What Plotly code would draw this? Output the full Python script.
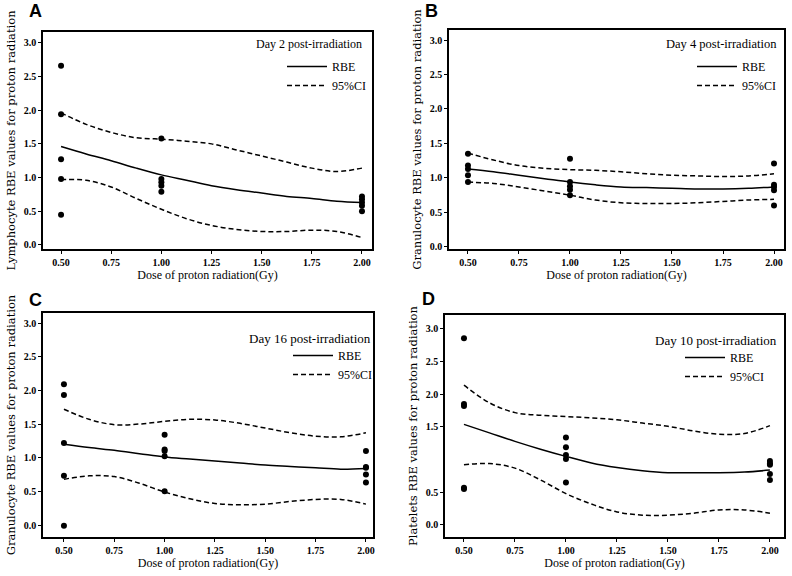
import plotly.graph_objs as go

W, H = 792, 576

# doses where the individual RBE values were measured
dose_obs = [0.5] * 5 + [1.0] * 5 + [2.0] * 5
# doses along the fitted curve
dose_fit = [0.5, 0.625, 0.75, 0.875, 1.0, 1.125, 1.25, 1.375, 1.5, 1.625, 1.75, 1.875, 2.0]

# A - lymphocytes, day 2
lym_obs = [2.66, 1.94, 1.27, 0.98, 0.45,
           1.58, 0.98, 0.93, 0.88, 0.79,
           0.72, 0.68, 0.63, 0.58, 0.50]
lym_rbe = [1.46, 1.35, 1.25, 1.14, 1.04, 0.96, 0.88, 0.82, 0.77, 0.72, 0.69, 0.65, 0.63]
lym_hi = [1.96, 1.79, 1.67, 1.59, 1.57, 1.54, 1.50, 1.41, 1.32, 1.23, 1.14, 1.09, 1.14]
lym_lo = [0.97, 0.96, 0.86, 0.69, 0.53, 0.39, 0.29, 0.23, 0.20, 0.20, 0.22, 0.20, 0.11]

# B - granulocytes, day 4
gr4_obs = [1.35, 1.18, 1.13, 1.04, 0.94,
           1.28, 0.94, 0.88, 0.83, 0.75,
           1.21, 0.90, 0.87, 0.82, 0.60]
gr4_rbe = [1.13, 1.09, 1.04, 0.99, 0.94, 0.90, 0.87, 0.86, 0.85, 0.84, 0.84, 0.85, 0.87]
gr4_hi = [1.36, 1.26, 1.18, 1.14, 1.12, 1.11, 1.09, 1.06, 1.04, 1.03, 1.02, 1.03, 1.06]
gr4_lo = [0.94, 0.92, 0.87, 0.81, 0.75, 0.68, 0.64, 0.63, 0.63, 0.64, 0.66, 0.68, 0.69]

# C - granulocytes, day 16
gr16_obs = [2.09, 1.93, 1.22, 0.73, -0.01,
            1.34, 1.12, 1.10, 1.02, 0.50,
            1.10, 0.86, 0.85, 0.75, 0.63]
gr16_rbe = [1.20, 1.15, 1.11, 1.06, 1.01, 0.98, 0.95, 0.92, 0.89, 0.87, 0.85, 0.83, 0.84]
gr16_hi = [1.72, 1.57, 1.49, 1.50, 1.54, 1.57, 1.56, 1.51, 1.44, 1.37, 1.32, 1.31, 1.37]
gr16_lo = [0.68, 0.73, 0.72, 0.62, 0.49, 0.39, 0.32, 0.30, 0.31, 0.35, 0.38, 0.38, 0.31]

# D - platelets, day 10
plt_obs = [2.86, 1.85, 1.82, 0.57, 0.55,
           1.34, 1.19, 1.07, 1.01, 0.65,
           0.98, 0.94, 0.92, 0.78, 0.69]
plt_rbe = [1.54, 1.41, 1.28, 1.16, 1.05, 0.95, 0.88, 0.83, 0.80, 0.80, 0.80, 0.81, 0.84]
plt_hi = [2.14, 1.87, 1.72, 1.68, 1.66, 1.64, 1.61, 1.56, 1.51, 1.44, 1.39, 1.40, 1.52]
plt_lo = [0.92, 0.94, 0.87, 0.69, 0.48, 0.32, 0.20, 0.15, 0.15, 0.18, 0.23, 0.23, 0.18]

x_ticks = [0.5, 0.75, 1.0, 1.25, 1.5, 1.75, 2.0]
x_ticktext = ["0.50", "0.75", "1.00", "1.25", "1.50", "1.75", "2.00"]
y_ticks = [0.0, 0.5, 1.0, 1.5, 2.0, 2.5, 3.0]
y_ticks_d = [0.0, 0.5, 1.5, 2.0, 2.5, 3.0]   # panel D has no 1.0 label

panels = [
    dict(letter="A", day="Day 2 post-irradiation", ylabel="Lymphocyte RBE values for proton radiation",
         obs=lym_obs, rbe=lym_rbe, hi=lym_hi, lo=lym_lo, yt=y_ticks,
         box=(43, 372, 32, 249), xr=[0.41, 2.05], yr=[-0.06, 3.16],
         letter_xy=(35, 11), day_xy=(364, 44), day_size=12, leg_xy=(282, 52)),
    dict(letter="B", day="Day 4 post-irradiation", ylabel="Granulocyte RBE values for proton radiation",
         obs=gr4_obs, rbe=gr4_rbe, hi=gr4_hi, lo=gr4_lo, yt=y_ticks,
         box=(449, 784, 30, 249), xr=[0.407, 2.049], yr=[-0.03, 3.145],
         letter_xy=(432, 11), day_xy=(779, 44), day_size=12.5, leg_xy=(692, 52)),
    dict(letter="C", day="Day 16 post-irradiation", ylabel="Granulocyte RBE values for proton radiation",
         obs=gr16_obs, rbe=gr16_rbe, hi=gr16_hi, lo=gr16_lo, yt=y_ticks,
         box=(43, 373, 313, 537), xr=[0.396, 2.035], yr=[-0.178, 3.149],
         letter_xy=(35, 300), day_xy=(373, 338), day_size=13, leg_xy=(288, 341)),
    dict(letter="D", day="Day 10 post-irradiation", ylabel="Platelets RBE values for proton radiation",
         obs=plt_obs, rbe=plt_rbe, hi=plt_hi, lo=plt_lo, yt=y_ticks_d,
         box=(445, 784, 315, 537), xr=[0.407, 2.069], yr=[-0.184, 3.214],
         letter_xy=(429, 299), day_xy=(779, 340), day_size=13, leg_xy=(680, 343)),
]

serif = "Liberation Serif"
dash = "5px,3px"

fig = go.Figure()
layout = dict(width=W, height=H, margin=dict(l=0, r=0, t=0, b=0), template="none",
              paper_bgcolor="white", plot_bgcolor="white", annotations=[])

for i, p in enumerate(panels):
    n = "" if i == 0 else str(i + 1)
    xa, ya = "x" + n, "y" + n
    leg = "legend" + n
    common = dict(xaxis=xa, yaxis=ya, legend=leg)

    fig.add_trace(go.Scatter(x=dose_obs, y=p["obs"], mode="markers", showlegend=False,
                             marker=dict(color="black", size=6), **common))
    fig.add_trace(go.Scatter(x=dose_fit, y=p["rbe"], mode="lines", name="RBE",
                             line=dict(color="black", width=1.5, shape="spline"), **common))
    fig.add_trace(go.Scatter(x=dose_fit, y=p["hi"], mode="lines", name="95%CI",
                             line=dict(color="black", width=1.5, dash=dash, shape="spline"), **common))
    fig.add_trace(go.Scatter(x=dose_fit, y=p["lo"], mode="lines", name="95%CI", showlegend=False,
                             line=dict(color="black", width=1.5, dash=dash, shape="spline"), **common))

    x0, x1, y0, y1 = p["box"]
    axline = dict(showline=True, linecolor="black", linewidth=1.5, mirror=True, automargin=False,
                  showgrid=False, zeroline=False, ticks="outside", ticklen=3,
                  tickcolor="black", tickfont=dict(family=serif, size=10, color="black", weight="bold"))
    layout["xaxis" + n] = dict(domain=[x0 / W, x1 / W], range=p["xr"], anchor=ya,
                               tickvals=x_ticks, ticktext=x_ticktext,
                               title=dict(text="Dose of proton radiation(Gy)", standoff=4,
                                          font=dict(family=serif, size=12, color="black")),
                               **axline)
    layout["yaxis" + n] = dict(domain=[1 - y1 / H, 1 - y0 / H], range=p["yr"], anchor=xa,
                               tickvals=p["yt"], ticktext=["%.1f" % v for v in p["yt"]],
                               title=dict(text=p["ylabel"], standoff=6,
                                          font=dict(family="DejaVu Serif", size=11.5, color="black")),
                               **axline)
    lx, ly = p["leg_xy"]
    layout[leg] = dict(x=lx / W, y=1 - ly / H, xanchor="left", yanchor="top",
                       xref="paper", yref="paper", bgcolor="rgba(0,0,0,0)", borderwidth=0,
                       tracegroupgap=0, itemwidth=40, font=dict(family=serif, size=12, color="black"))

    tx, ty = p["letter_xy"]
    layout["annotations"].append(dict(text="<b>%s</b>" % p["letter"], x=tx / W, y=1 - ty / H,
                                      xanchor="center", yanchor="middle",
                                      xref="paper", yref="paper", showarrow=False,
                                      font=dict(family="Liberation Sans", size=18, color="black")))
    dx, dy = p["day_xy"]
    layout["annotations"].append(dict(text=p["day"], x=dx / W, y=1 - dy / H,
                                      xanchor="right", yanchor="middle",
                                      xref="paper", yref="paper", showarrow=False,
                                      font=dict(family=serif, size=p["day_size"], color="black")))

fig.update_layout(**layout)
# the page body has a default 8px margin; drop it so the figure fills the window
fig.write_html("out.html", config={"displayModeBar": False},
               post_script="document.body.style.margin='0';")
